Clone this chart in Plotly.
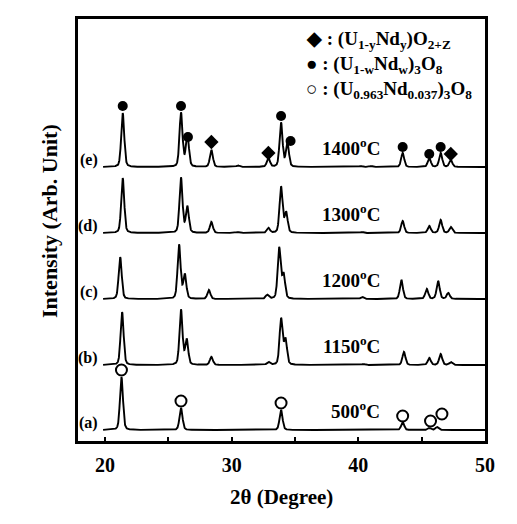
import numpy as np
import plotly.graph_objects as go

# ---- data ----
sample_ids = ["(a)", "(b)", "(c)", "(d)", "(e)"]
temperatures = ["500", "1150", "1200", "1300", "1400"]
offsets = [0, 65, 131, 197, 263]

peaks_a_pos = [21.3, 26.0, 33.9, 43.5, 45.6, 46.2]
peaks_a_h = [53, 22, 20, 8, 2, 3]
peaks_b_pos = [21.35, 26.0, 26.45, 28.4, 32.9, 33.9, 34.25, 40.4, 43.6, 45.6, 46.5, 47.3]
peaks_b_h = [53, 55, 25, 8, 3, 46, 25, 1, 13, 7, 11, 3]
peaks_c_pos = [21.2, 25.85, 26.3, 28.2, 32.8, 33.75, 34.1, 40.3, 43.4, 45.4, 46.3, 47.1]
peaks_c_h = [42, 54, 24, 9, 4, 51, 24, 2, 19, 10, 18, 6]
peaks_d_pos = [21.4, 26.0, 26.5, 28.4, 30.5, 32.9, 33.9, 34.3, 40.3, 43.5, 45.6, 46.5, 47.3]
peaks_d_h = [55, 55, 26, 11, 1, 5, 46, 20, 1, 12, 7, 13, 6]
peaks_e_pos = [21.4, 26.0, 26.5, 28.4, 30.5, 32.9, 33.9, 34.4, 40.2, 41.0, 43.5, 45.6, 46.5, 47.3]
peaks_e_h = [54, 54, 33, 17, 1.5, 9, 44, 24, 1, 1, 14, 9, 14, 7]

# phase markers
diamond_x = [28.4, 32.9, 47.3]
diamond_y = [288, 277, 276]
dot_x = [21.4, 26.0, 26.55, 33.9, 34.65, 43.5, 45.6, 46.5]
dot_y = [324, 324, 293, 314, 289, 283, 276, 283]
open_x = [21.3, 26.0, 33.9, 43.5, 45.7, 46.6]
open_y = [60, 29, 27, 14, 9, 16]

x_ticks = [20, 30, 40, 50]

peak_sets = [(peaks_a_pos, peaks_a_h), (peaks_b_pos, peaks_b_h), (peaks_c_pos, peaks_c_h),
             (peaks_d_pos, peaks_d_h), (peaks_e_pos, peaks_e_h)]

FWHM = 0.28
ETA = 0.3
tt = np.arange(19.85, 50.0001, 0.01)


def profile(pos, h):
    y = np.zeros_like(tt)
    for p, a in zip(pos, h):
        d = (tt - p) / (FWHM / 2)
        g = np.exp(-np.log(2) * d ** 2)
        l = 1.0 / (1.0 + d ** 2)
        y += a * ((1 - ETA) * g + ETA * l)
    return y


fig = go.Figure()
for (pos, h), off in zip(peak_sets, offsets):
    fig.add_trace(go.Scatter(x=tt, y=profile(pos, h) + off, mode="lines",
                             line=dict(color="black", width=1.9), hoverinfo="skip"))

fig.add_trace(go.Scatter(x=diamond_x, y=diamond_y, mode="markers",
                         marker=dict(symbol="diamond", size=11, color="black")))
fig.add_trace(go.Scatter(x=dot_x, y=dot_y, mode="markers",
                         marker=dict(symbol="circle", size=10, color="black")))
fig.add_trace(go.Scatter(x=open_x, y=open_y, mode="markers",
                         marker=dict(symbol="circle-open", size=11, color="black",
                                     line=dict(width=2, color="black"))))

serif = "Liberation Serif, Times New Roman, serif"
ann = []
for sid, t, off in zip(sample_ids, temperatures, offsets):
    ann.append(dict(x=19.6, y=off + 7, xref="x", yref="y", text="<b>%s</b>" % sid,
                    showarrow=False, xanchor="right", yanchor="middle",
                    font=dict(family=serif, size=16, color="black")))
    ann.append(dict(x=41.9, y=off + 20, xref="x", yref="y",
                    text="<b>%s<sup>o</sup>C</b>" % t,
                    showarrow=False, xanchor="right", yanchor="middle",
                    font=dict(family=serif, size=19, color="black")))

legend_lines = [
    "<b>◆ : (U<sub>1-y</sub>Nd<sub>y</sub>)O<sub>2+Z</sub></b>",
    "<b>● : (U<sub>1-w</sub>Nd<sub>w</sub>)<sub>3</sub>O<sub>8</sub></b>",
    "<b>○ : (U<sub>0.963</sub>Nd<sub>0.037</sub>)<sub>3</sub>O<sub>8</sub></b>",
]
for i, txt in enumerate(legend_lines):
    ann.append(dict(x=35.7, y=390 - 25 * i, xref="x", yref="y", text=txt,
                    showarrow=False, xanchor="left", yanchor="middle",
                    font=dict(family=serif, size=19, color="black")))

ann.append(dict(x=(50 - 78) / 407, y=(441 - 221) / 422, xref="paper", yref="paper",
                text="<b>Intensity (Arb. Unit)</b>", textangle=-90, showarrow=False,
                xanchor="center", yanchor="middle",
                font=dict(family=serif, size=22, color="black")))
ann.append(dict(x=(281 - 78) / 407, y=(441 - 497) / 422, xref="paper", yref="paper",
                text="<b>2θ (Degree)</b>", showarrow=False,
                xanchor="center", yanchor="middle",
                font=dict(family=serif, size=21, color="black")))

fig.update_layout(
    width=517, height=524,
    margin=dict(l=78, r=32, t=19, b=83),
    plot_bgcolor="white", paper_bgcolor="white",
    showlegend=False,
    annotations=ann,
    xaxis=dict(range=[17.87, 50], showline=True, linewidth=3, linecolor="black",
               mirror=True, ticks="inside", ticklen=4, tickwidth=2, tickcolor="black",
               tickvals=x_ticks, ticktext=[str(v) for v in x_ticks],
               ticklabelstandoff=4,
               minor=dict(tickvals=[25, 35, 45], ticks="inside", ticklen=4,
                          tickwidth=2, tickcolor="black"),
               tickfont=dict(family=serif, size=20, color="black", weight="bold"),
               showgrid=False, zeroline=False),
    yaxis=dict(range=[-11, 411], showline=True, linewidth=3, linecolor="black",
               mirror=True, ticks="", showticklabels=False,
               showgrid=False, zeroline=False),
)

fig.write_html("out.html", config={"displayModeBar": False},
               post_script="document.body.style.margin='0';")
